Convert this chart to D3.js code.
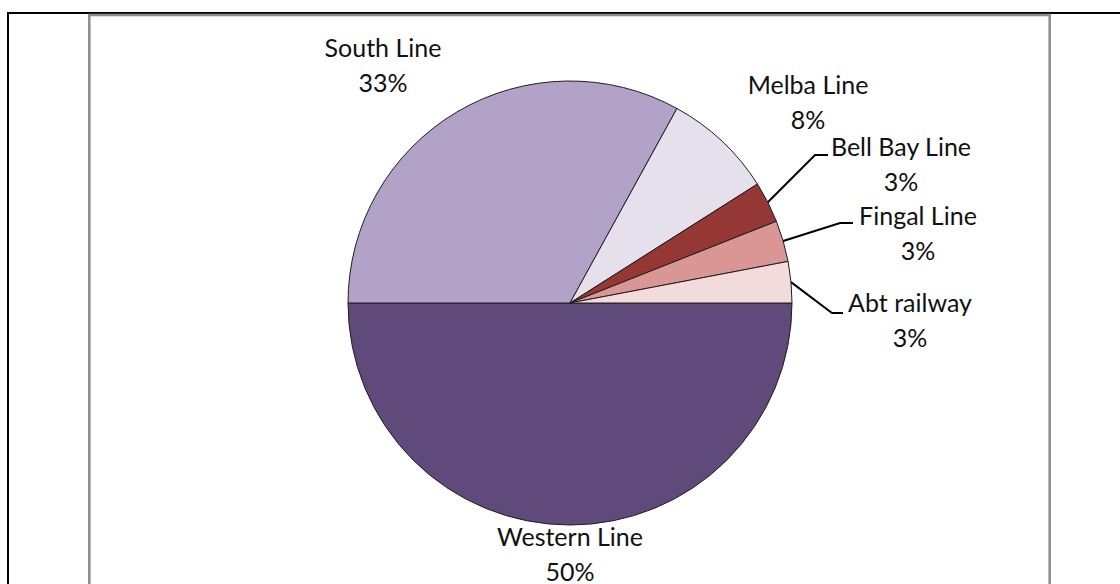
<!DOCTYPE html>
<html>
<head>
<meta charset="utf-8">
<script src="https://cdn.jsdelivr.net/npm/d3@7"></script>
<style>
  html, body { margin: 0; padding: 0; background: #fff; }
  svg { display: block; }
  text { font-family: Lato, "Open Sans", sans-serif; fill: #111; }
</style>
</head>
<body>
<svg id="chart" width="1120" height="584"></svg>
<script>
// Share of freight by rail line
const categories = ["Western Line", "South Line", "Melba Line", "Bell Bay Line", "Fingal Line", "Abt railway"];
const shares = [50, 33, 8, 3, 3, 3];
const percentLabels = ["50%", "33%", "8%", "3%", "3%", "3%"];
const sliceColors = ["#604a7b", "#b3a2c7", "#e5e0ec", "#953735", "#d99694", "#f2dcdb"];

// Label placement: centre of the two-line label, plus optional leader elbow/end
const labelLayout = [
  { x: 570, y: 537 },
  { x: 383, y: 48 },
  { x: 808, y: 85 },
  { x: 901, y: 147, elbow: [815, 155], end: [828, 155] },
  { x: 918, y: 216, elbow: [840, 223], end: [853, 223] },
  { x: 910, y: 303, elbow: [832, 313], end: [843, 313] }
];

const W = 1120, H = 584;
const cx = 570, cy = 303, radius = 222;
const lineGap = 35;

const svg = d3.select("#chart");

// Outer black frame (top and left edges)
svg.append("path")
  .attr("d", `M8,${H + 2} L8,13 L${W + 2},13`)
  .attr("fill", "none")
  .attr("stroke", "#000")
  .attr("stroke-width", 2);

// Chart area border
svg.append("rect")
  .attr("x", 89.3).attr("y", 15)
  .attr("width", 1049.7 - 89.3).attr("height", H + 20)
  .attr("fill", "#fff")
  .attr("stroke", "#8f8f8f")
  .attr("stroke-width", 2.6);

const data = categories.map((name, i) => ({ name, value: shares[i], pct: percentLabels[i], color: sliceColors[i], layout: labelLayout[i] }));

const pie = d3.pie()
  .sort(null)
  .value(d => d.value)
  .startAngle(Math.PI / 2)
  .endAngle(Math.PI / 2 + 2 * Math.PI);

const arc = d3.arc().innerRadius(0).outerRadius(radius);

const g = svg.append("g").attr("transform", `translate(${cx},${cy})`);
const arcs = pie(data);

g.selectAll("path.slice")
  .data(arcs)
  .join("path")
  .attr("class", "slice")
  .attr("d", arc)
  .attr("fill", d => d.data.color)
  .attr("stroke", "#1e1e1e")
  .attr("stroke-width", 1)
  .attr("stroke-linejoin", "round");

// Leader lines for the narrow slices
arcs.filter(d => d.data.layout.elbow).forEach(d => {
  const mid = (d.startAngle + d.endAngle) / 2;
  const sx = cx + radius * Math.sin(mid);
  const sy = cy - radius * Math.cos(mid);
  const L = d.data.layout;
  svg.append("polyline")
    .attr("points", [[sx, sy], L.elbow, L.end].map(p => p.join(",")).join(" "))
    .attr("fill", "none")
    .attr("stroke", "#000")
    .attr("stroke-width", 2);
});

// Category and percentage labels
const labels = svg.append("g").attr("font-size", 25).attr("text-anchor", "middle");
arcs.forEach(d => {
  const L = d.data.layout;
  const t = labels.append("text").attr("x", L.x).attr("y", L.y + 8.5);
  t.append("tspan").attr("x", L.x).text(d.data.name);
  t.append("tspan").attr("x", L.x).attr("dy", lineGap).text(d.data.pct);
});
</script>
</body>
</html>
